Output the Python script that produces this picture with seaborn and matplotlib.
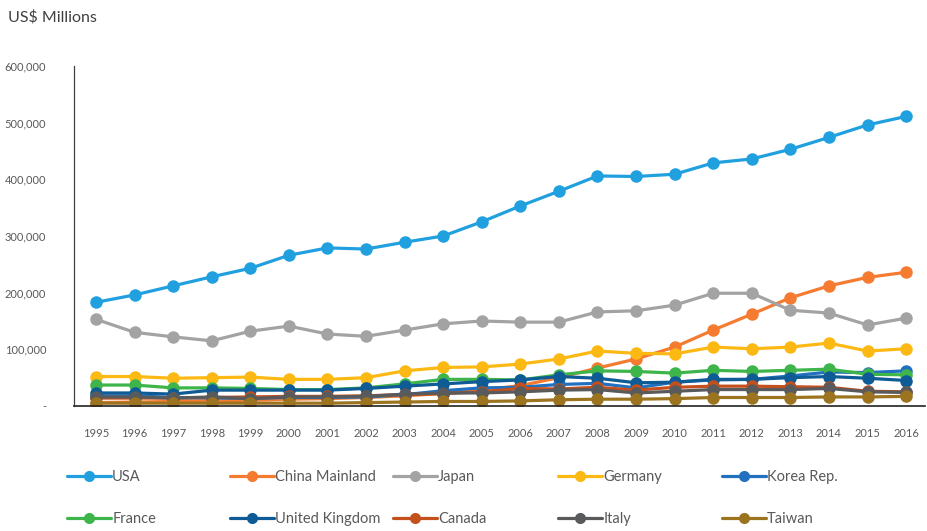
import matplotlib
matplotlib.use("Agg")
import matplotlib.pyplot as plt
import seaborn as sns
import pandas as pd
from matplotlib.lines import Line2D

years = list(range(1995, 2017))

usa = [183000, 196000, 212000, 228000, 243000, 266000, 279000, 277000, 289000, 300000, 325000,
       353000, 379000, 406000, 405000, 409000, 429000, 436000, 453000, 474000, 496000, 511000]
china = [6000, 7000, 8000, 9000, 10000, 12000, 13000, 15000, 18000, 22000, 28000,
         36000, 50000, 67000, 83000, 104000, 134000, 162000, 191000, 212000, 227000, 236000]
japan = [153000, 130000, 122000, 115000, 132000, 141000, 127000, 123000, 134000, 145000, 150000,
         148000, 148000, 166000, 168000, 178000, 199000, 199000, 169000, 164000, 143000, 155000]
germany = [52000, 52000, 49000, 50000, 51000, 47000, 47000, 50000, 62000, 68000, 69000,
           74000, 83000, 97000, 93000, 92000, 104000, 101000, 104000, 111000, 97000, 101000]
korea = [18000, 18000, 15000, 14000, 14000, 15000, 15000, 16000, 20000, 27000, 32000,
         33000, 38000, 40000, 32000, 42000, 46000, 47000, 53000, 60000, 59000, 62000]
france = [37000, 37000, 32000, 32000, 31000, 29000, 29000, 32000, 39000, 47000, 47000,
          46000, 55000, 62000, 61000, 58000, 63000, 61000, 63000, 65000, 56000, 55000]
uk = [23000, 23000, 21000, 28000, 28000, 28000, 28000, 31000, 35000, 39000, 43000,
      46000, 52000, 49000, 41000, 42000, 47000, 47000, 50000, 52000, 49000, 45000]
canada = [14000, 14000, 14000, 15000, 16000, 17000, 17000, 18000, 20000, 22000, 25000,
          31000, 30000, 33000, 28000, 33000, 35000, 35000, 34000, 33000, 26000, 25000]
italy = [16000, 16000, 14000, 16000, 13000, 16000, 16000, 17000, 21000, 23000, 23000,
         25000, 28000, 29000, 23000, 26000, 29000, 29000, 29000, 31000, 25000, 24000]
taiwan = [5000, 5000, 5000, 5000, 5000, 5000, 5000, 6000, 7000, 8000, 8000,
          9000, 11000, 12000, 12000, 13000, 15000, 15000, 15000, 16000, 16000, 17000]

countries = ["USA", "China Mainland", "Japan", "Germany", "Korea Rep.",
             "France", "United Kingdom", "Canada", "Italy", "Taiwan"]
series = [usa, china, japan, germany, korea, france, uk, canada, italy, taiwan]
colors = ["#21A0DF", "#F47B30", "#A3A3A3", "#FDB913", "#2270C0",
          "#3EB54A", "#0F5B95", "#C4501E", "#585A5C", "#9C7420"]
yticks = [0, 100000, 200000, 300000, 400000, 500000, 600000]
ytick_labels = ["-", "100,000", "200,000", "300,000", "400,000", "500,000", "600,000"]

df = pd.DataFrame({
    "year": [y for _ in countries for y in years],
    "value": [v for s in series for v in s],
    "country": [c for c in countries for _ in years],
})

sns.set_style("white")
plt.rcParams["font.family"] = ["Lato", "DejaVu Sans"]

fig = plt.figure(figsize=(9.28, 5.31), dpi=100)
ax = fig.add_axes([74 / 928, 1 - 406 / 531, (925 - 74) / 928, (406 - 66) / 531])

sns.lineplot(data=df, x="year", y="value", hue="country", hue_order=countries,
             palette=dict(zip(countries, colors)), marker="o", markersize=9,
             markeredgewidth=0, linewidth=2.3, legend=False, ax=ax)

ax.set_xlim(1994.43, 2016.49)
ax.set_ylim(0, 600000)
ax.set_xticks(years)
ax.set_xticklabels([str(y) for y in years], fontsize=8, color="#595959")
ax.set_yticks(yticks)
ax.set_yticklabels(ytick_labels, fontsize=8, color="#595959")
ax.tick_params(axis="x", length=0, pad=16)
ax.tick_params(axis="y", length=4, width=0.8, color="#404040", direction="out", pad=16)
ax.set_xlabel("")
ax.set_ylabel("")

for side in ["top", "right"]:
    ax.spines[side].set_visible(False)
ax.spines["left"].set_color("#404040")
ax.spines["left"].set_linewidth(0.9)
ax.spines["bottom"].set_color("#222222")
ax.spines["bottom"].set_linewidth(1.2)

fig.text(8 / 928, 1 - 17 / 531, "US$ Millions", fontsize=11.5, color="#404040",
         va="center", ha="left")

# Legend laid out as five columns of two entries each
col_x = [67, 230, 393, 558, 722]
for ci, x in enumerate(col_x):
    handles, labels = [], []
    for ri in range(2):
        idx = ri * 5 + ci
        handles.append(Line2D([], [], color=colors[idx], linewidth=2.3, marker="o",
                              markersize=8, markeredgewidth=0))
        labels.append(countries[idx])
    fig.legend(handles, labels, loc="upper left", bbox_to_anchor=(x / 928, 1 - 470 / 531),
               frameon=False, fontsize=10.5, labelcolor="#595959", handlelength=3.0,
               handletextpad=0.1, labelspacing=1.95, borderaxespad=0, borderpad=0)

fig.savefig("out.png", dpi=100, facecolor="white")
